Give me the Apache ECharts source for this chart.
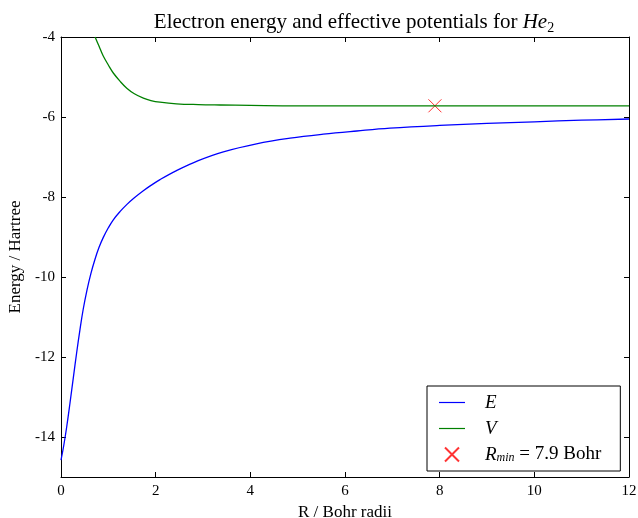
<!DOCTYPE html>
<html>
<head>
<meta charset="utf-8">
<script src="https://cdn.jsdelivr.net/npm/echarts@6/dist/echarts.min.js"></script>
<style>
html,body{margin:0;padding:0;background:#fff;}
#c{width:638px;height:518px;}
</style>
</head>
<body>
<div id="c"></div>
<script>
// R values (Bohr) and electron energy E (Hartree)
var rE = [0, 0.06, 0.12, 0.19, 0.26, 0.33, 0.40, 0.47, 0.55, 0.63, 0.72, 0.80, 0.894, 1.0, 1.105, 1.25, 1.388, 1.55, 1.739, 1.9, 2.092, 2.44, 2.90, 3.43, 4.13, 4.84, 5.54, 6.25, 6.95, 8.0, 9.0, 10.0, 11.0, 12.0];
var eVals = [-14.58, -14.20, -13.75, -13.15, -12.52, -11.90, -11.32, -10.80, -10.32, -9.92, -9.55, -9.27, -9.01, -8.77, -8.57, -8.36, -8.19, -8.02, -7.845, -7.71, -7.565, -7.34, -7.09, -6.87, -6.67, -6.53, -6.43, -6.35, -6.28, -6.21, -6.16, -6.12, -6.08, -6.05];
// R values and effective potential V
var rV = [0.72, 0.80, 0.89, 1.0, 1.105, 1.25, 1.39, 1.55, 1.74, 1.9, 2.09, 2.44, 2.9, 3.36, 4.0, 5.0, 6.0, 8.0, 10.0, 12.0];
var vVals = [-4.0, -4.22, -4.47, -4.70, -4.90, -5.11, -5.28, -5.42, -5.53, -5.59, -5.63, -5.67, -5.69, -5.70, -5.71, -5.72, -5.72, -5.72, -5.72, -5.72];
// minimum marker
var rMin = [7.9];
var vMin = [-5.72];
var xTicks = [0, 2, 4, 6, 8, 10, 12];
var yTicks = [-14, -12, -10, -8, -6, -4];

function zip(a, b) { return a.map(function (v, i) { return [v, b[i]]; }); }

var FONT = 'Liberation Serif';
var chart = echarts.init(document.getElementById('c'), null, {renderer: 'canvas'});

var axisCommon = {
  axisLine: {show: true, onZero: false, lineStyle: {color: '#000', width: 1}},
  splitLine: {show: false}
};
function ticks(vals) {
  return {show: true, inside: true, length: 5, lineStyle: {color: '#000', width: 1}, customValues: vals};
}

chart.setOption({
  animation: false,
  backgroundColor: '#fff',
  title: {
    text: '{a|Electron energy and effective potentials for }{i|He}{s|2}',
    left: 349, top: 4, textAlign: 'center',
    textStyle: {
      fontWeight: 'normal',
      rich: {
        a: {fontFamily: FONT, fontSize: 21, fontWeight: 'normal', color: '#000', lineHeight: 26},
        i: {fontFamily: FONT, fontSize: 21, fontWeight: 'normal', fontStyle: 'italic', color: '#000', lineHeight: 26},
        s: {fontFamily: FONT, fontSize: 14, fontWeight: 'normal', color: '#000', verticalAlign: 'bottom', lineHeight: 26}
      }
    }
  },
  grid: {left: 61, right: 9, top: 37, bottom: 41, containLabel: false, outerBoundsMode: 'none'},
  xAxis: [
    Object.assign({}, axisCommon, {
      type: 'value', position: 'bottom', min: 0, max: 12, interval: 2,
      name: 'R / Bohr radii', nameLocation: 'middle', nameGap: 25,
      nameTextStyle: {fontFamily: FONT, fontSize: 17, color: '#000'},
      axisLabel: {fontFamily: FONT, fontSize: 15, color: '#000', margin: 7, customValues: xTicks},
      axisTick: ticks(xTicks)
    }),
    Object.assign({}, axisCommon, {
      type: 'value', position: 'top', min: 0, max: 12, interval: 2,
      axisLabel: {show: false},
      axisTick: ticks(xTicks)
    })
  ],
  yAxis: [
    Object.assign({}, axisCommon, {
      type: 'value', position: 'left', min: -15, max: -4,
      name: 'Energy / Hartree', nameLocation: 'middle', nameGap: 35,
      nameTextStyle: {fontFamily: FONT, fontSize: 17, color: '#000'},
      axisLabel: {fontFamily: FONT, fontSize: 15, color: '#000', margin: 6,
        customValues: yTicks, formatter: function (v) { return String(v); }},
      axisTick: ticks(yTicks)
    }),
    Object.assign({}, axisCommon, {
      type: 'value', position: 'right', min: -15, max: -4,
      axisLabel: {show: false},
      axisTick: ticks(yTicks)
    })
  ],
  legend: {
    orient: 'vertical',
    left: 427, top: 386,
    padding: [7, 19, 7, 12],
    itemWidth: 26, itemHeight: 14, itemGap: 7,
    borderColor: '#000', borderWidth: 1, borderRadius: 0,
    backgroundColor: '#fff',
    data: [
      {name: 'E', icon: 'path://M0,0L26,0L26,1.2L0,1.2Z'},
      {name: 'V', icon: 'path://M0,0L26,0L26,1.2L0,1.2Z'},
      {name: 'Rmin'}
    ],
    formatter: function (name) {
      if (name === 'E') return '{i|E}';
      if (name === 'V') return '{i|V}';
      return '{i|R}{s|min}{n| = 7.9 Bohr}';
    },
    textStyle: {
      fontFamily: FONT, fontSize: 18, color: '#000', lineHeight: 18,
      rich: {
        i: {fontFamily: FONT, fontSize: 19, fontStyle: 'italic', color: '#000', padding: [0, 0, 0, 15], lineHeight: 18},
        s: {fontFamily: FONT, fontSize: 12, fontStyle: 'italic', color: '#000', verticalAlign: 'bottom', lineHeight: 18},
        n: {fontFamily: FONT, fontSize: 19, color: '#000', lineHeight: 18}
      }
    }
  },
  series: [
    {
      name: 'E', type: 'line', xAxisIndex: 0, yAxisIndex: 0,
      data: zip(rE, eVals), smooth: 0.4, symbol: 'none',
      lineStyle: {color: '#0000ff', width: 1.3}, itemStyle: {color: '#0000ff'}
    },
    {
      name: 'V', type: 'line', xAxisIndex: 0, yAxisIndex: 0,
      data: zip(rV, vVals), smooth: 0.4, symbol: 'none',
      lineStyle: {color: '#008000', width: 1.3}, itemStyle: {color: '#008000'}
    },
    {
      name: 'Rmin', type: 'scatter', xAxisIndex: 0, yAxisIndex: 0,
      data: zip(rMin, vMin),
      symbol: 'path://M0,0L10,10M10,0L0,10', symbolSize: 13, symbolKeepAspect: true,
      itemStyle: {color: 'rgba(0,0,0,0)', borderColor: '#ff0000', borderWidth: 1}
    }
  ]
});
</script>
</body>
</html>
